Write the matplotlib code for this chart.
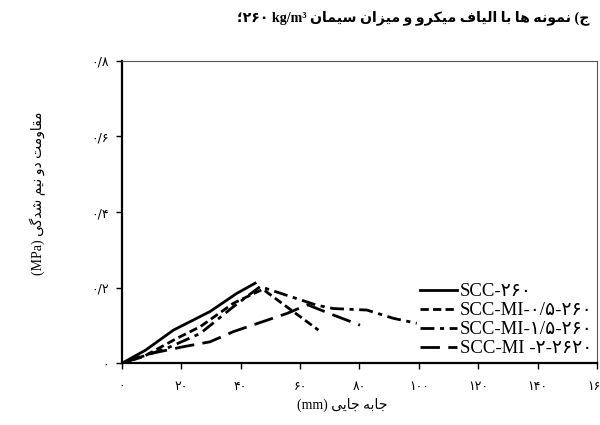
import numpy as np
import matplotlib
matplotlib.use("Agg")
import matplotlib.pyplot as plt

# data (displacement mm, splitting strength MPa)
scc_x = [0, 8, 17.4, 29.7, 38.7, 44.9]
scc_y = [0, 0.035, 0.088, 0.137, 0.185, 0.212]
mi05_x = [0, 7.3, 18.5, 26.4, 37.6, 47.5, 66.2]
mi05_y = [0, 0.018, 0.066, 0.097, 0.159, 0.196, 0.088]
mi15_x = [0, 15.2, 26.4, 37.6, 46.6, 65.6, 71.2, 82.5, 91.5, 99.3]
mi15_y = [0, 0.040, 0.079, 0.150, 0.203, 0.154, 0.145, 0.141, 0.119, 0.106]
mi2_x = [0, 7.3, 20.7, 29.7, 37.6, 55.6, 62.5, 71.2, 80.2]
mi2_y = [0, 0.022, 0.044, 0.057, 0.084, 0.132, 0.155, 0.128, 0.101]

labels = ["SCC-۲۶۰", "SCC-MI-۰/۵-۲۶۰", "SCC-MI-۱/۵-۲۶۰", "SCC-MI -۲-۲۶۲۰"]
x_ticks = [0, 20, 40, 60, 80, 100, 120, 140, 160]
x_ticklabels = ["۰", "۲۰", "۴۰", "۶۰", "۸۰", "۱۰۰", "۱۲۰", "۱۴۰", "۱۶۰"]
y_ticks = [0, 0.2, 0.4, 0.6, 0.8]
y_ticklabels = ["۰", "۰/۲", "۰/۴", "۰/۶", "۰/۸"]

# minimal persian shaping: isolated, final, initial, medial
FORMS = {
    "ا": ("\uFE8D", "\uFE8E", None, None),
    "ب": ("\uFE8F", "\uFE90", "\uFE91", "\uFE92"),
    "ت": ("\uFE95", "\uFE96", "\uFE97", "\uFE98"),
    "ج": ("\uFE9D", "\uFE9E", "\uFE9F", "\uFEA0"),
    "د": ("\uFEA9", "\uFEAA", None, None),
    "ر": ("\uFEAD", "\uFEAE", None, None),
    "ز": ("\uFEAF", "\uFEB0", None, None),
    "س": ("\uFEB1", "\uFEB2", "\uFEB3", "\uFEB4"),
    "ش": ("\uFEB5", "\uFEB6", "\uFEB7", "\uFEB8"),
    "ف": ("\uFED1", "\uFED2", "\uFED3", "\uFED4"),
    "ق": ("\uFED5", "\uFED6", "\uFED7", "\uFED8"),
    "ل": ("\uFEDD", "\uFEDE", "\uFEDF", "\uFEE0"),
    "م": ("\uFEE1", "\uFEE2", "\uFEE3", "\uFEE4"),
    "ن": ("\uFEE5", "\uFEE6", "\uFEE7", "\uFEE8"),
    "ه": ("\uFEE9", "\uFEEA", "\uFEEB", "\uFEEC"),
    "و": ("\uFEED", "\uFEEE", None, None),
    "ی": ("\uFBFC", "\uFBFD", "\uFBFE", "\uFBFF"),
    "ک": ("\uFB8E", "\uFB8F", "\uFB90", "\uFB91"),
    "گ": ("\uFB92", "\uFB93", "\uFB94", "\uFB95"),
}


def rtl(text):
    out = []
    for i, ch in enumerate(text):
        if ch not in FORMS:
            out.append(ch)
            continue
        prev = text[i - 1] if i > 0 else ""
        nxt = text[i + 1] if i + 1 < len(text) else ""
        join_prev = prev in FORMS and FORMS[prev][2] is not None
        join_next = nxt in FORMS and FORMS[ch][2] is not None
        iso, fin, ini, med = FORMS[ch]
        if join_prev and join_next:
            out.append(med)
        elif join_prev:
            out.append(fin)
        elif join_next:
            out.append(ini)
        else:
            out.append(iso)
    return "".join(out)[::-1]


fa = ["Liberation Serif", "DejaVu Sans"]
plt.rcParams["font.family"] = fa

fig = plt.figure(figsize=(6, 4.25), dpi=100)
ax = fig.add_axes([0.203, 0.145, 0.792, 0.712])

ax.plot(scc_x, scc_y, color="black", lw=2, linestyle="-", label=labels[0])
ax.plot(mi05_x, mi05_y, color="black", lw=2, dashes=(3, 1.5), label=labels[1])
ax.plot(mi15_x, mi15_y, color="black", lw=2, dashes=(5, 2, 1.5, 2), label=labels[2])
ax.plot(mi2_x, mi2_y, color="black", lw=2, dashes=(7, 3), label=labels[3])

ax.set_xlim(0, 160)
ax.set_ylim(0, 0.8)
ax.set_xticks(x_ticks)
ax.set_xticklabels(x_ticklabels, family="DejaVu Sans", fontsize=9)
ax.set_yticks(y_ticks)
ax.set_yticklabels(y_ticklabels, family="DejaVu Sans", fontsize=9)
ax.tick_params(axis="x", direction="out", length=4, width=1, pad=8)
ax.tick_params(axis="y", direction="out", length=4, width=1, pad=5)
for side in ["left", "bottom"]:
    ax.spines[side].set_linewidth(1.6)
for side in ["top", "right"]:
    ax.spines[side].set_linewidth(0.8)
    ax.spines[side].set_color("#555555")

leg = ax.legend(loc="lower right", bbox_to_anchor=(1.027, -0.035), frameon=False,
                handlelength=2.0, handletextpad=0.15, labelspacing=0.1,
                prop={"family": fa, "size": 13.5})

title = "؛۲۶۰ kg/m³ " + rtl("ج) نمونه ها با الیاف میکرو و میزان سیمان").replace(")", "(")
fig.text(0.983, 0.958, title, ha="right", va="center", fontsize=10.2,
         fontweight="bold", family=["Liberation Serif", "DejaVu Sans"])
fig.text(0.063, 0.546, "(MPa) " + rtl("مقاومت دو نیم شدگی"), rotation=90,
         ha="center", va="center", fontsize=10)
fig.text(0.57, 0.047, "(mm) " + rtl("جابه جایی"), ha="center", va="center",
         fontsize=10)

fig.savefig("out.png", dpi=100)
